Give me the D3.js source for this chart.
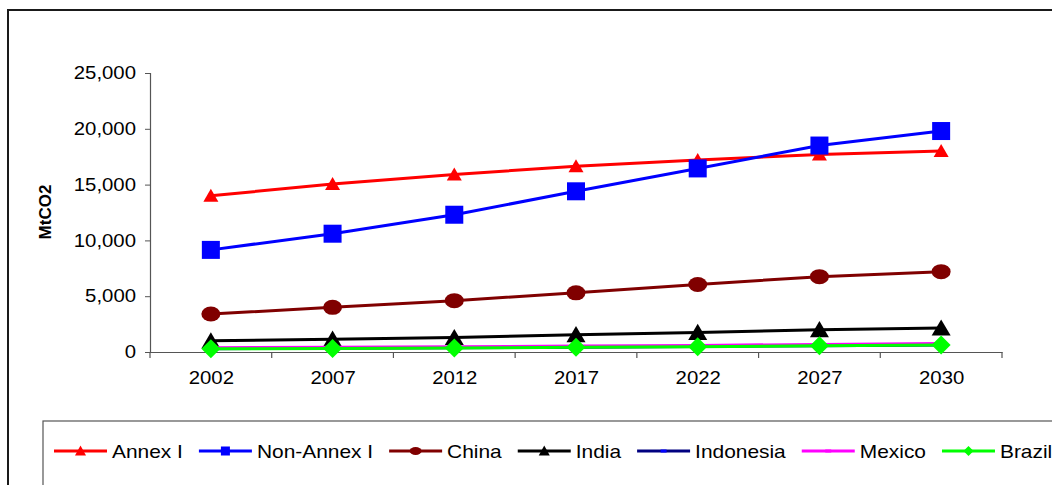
<!DOCTYPE html>
<html><head><meta charset="utf-8">
<script src="https://cdn.jsdelivr.net/npm/d3@7"></script>
<style>
body{margin:0;background:#fff;}
svg{display:block;}
</style></head>
<body>
<svg id="chart" width="1052" height="485"></svg>
<script>
const years = ["2002","2007","2012","2017","2022","2027","2030"];
const yTicks = [0, 5000, 10000, 15000, 20000, 25000];
const seriesNames = ["Annex I","Non-Annex I","China","India","Indonesia","Mexico","Brazil"];
const annexI    = [14000, 15050, 15900, 16650, 17200, 17700, 18000];
const nonAnnexI = [9150, 10600, 12300, 14400, 16450, 18500, 19800];
const china     = [3400, 4000, 4600, 5300, 6050, 6750, 7200];
const india     = [1000, 1150, 1300, 1550, 1750, 2000, 2150];
const indonesia = [300, 340, 380, 430, 490, 560, 620];
const mexico    = [380, 430, 470, 530, 590, 680, 760];
const brazil    = [290, 320, 360, 420, 480, 560, 630];

(function(){
const seriesValues = [annexI, nonAnnexI, china, india, indonesia, mexico, brazil];
const colors = ["#ff0000","#0000ff","#800000","#000000","#000080","#ff00ff","#00ff00"];
const markers = ["tri","square","circle","tri","dash","dash","diamond"];
const plotSize = [15, 18, 17, 19, 0, 0, 19];
const legSize  = [11, 9, 10, 11, 6, 6, 10];

const svg = d3.select("#chart");
const mLeft = 150, mRight = 1002, mTop = 73, mBottom = 352;
const font = "'Liberation Sans', Arial, sans-serif";
const STRETCH = 1.13;
function stretch(sel){
  sel.each(function(){
    const L = this.getComputedTextLength();
    this.setAttribute("textLength", (L*STRETCH).toFixed(2));
    this.setAttribute("lengthAdjust","spacingAndGlyphs");
  });
}

// outer frame
svg.append("rect").attr("x",8).attr("y",10).attr("width",1100).attr("height",520)
  .attr("fill","none").attr("stroke","#1a1a1a").attr("stroke-width",2);

const x = d3.scalePoint().domain(years).range([mLeft,mRight]).padding(0.5);
const xBand = d3.scaleBand().domain(years).range([mLeft,mRight]).padding(0);
const y = d3.scaleLinear().domain([0,25000]).range([mBottom,mTop]);

// y axis
const yAx = svg.append("g").attr("transform",`translate(${mLeft},0)`)
  .call(d3.axisLeft(y).tickValues(yTicks).tickFormat(d3.format(",")).tickSize(5).tickPadding(9));
yAx.select(".domain").attr("stroke","#555").attr("stroke-width",1.2);
yAx.selectAll(".tick line").attr("stroke","#555");
yAx.selectAll("text").attr("font-family",font).attr("font-size",18).attr("fill","#000").call(stretch);

// x axis
const xAx = svg.append("g").attr("transform",`translate(0,${mBottom})`)
  .call(d3.axisBottom(x).tickSizeInner(0).tickSizeOuter(0).tickPadding(19));
xAx.select(".domain").attr("stroke","#555").attr("stroke-width",1.2);
xAx.selectAll("text").attr("font-family",font).attr("font-size",18).attr("fill","#000").call(stretch);
const bounds = years.map(d=>xBand(d)).concat([xBand.range()[1]]);
xAx.selectAll(".btick").data(bounds).enter().append("line")
  .attr("x1",d=>d).attr("x2",d=>d).attr("y1",0).attr("y2",6)
  .attr("stroke","#555").attr("stroke-width",1.2);

// y title
svg.append("text").attr("transform","translate(51,212) rotate(-90)")
  .attr("text-anchor","middle").attr("font-family",font)
  .attr("font-weight","bold").attr("font-size",17).text("MtCO2");

function drawMarker(g, type, cx, cy, s, color){
  if(type==="tri"){
    const h = s*0.8;
    g.append("path").attr("d",`M${cx},${cy-h/2-1}L${cx+s/2},${cy+h/2}L${cx-s/2},${cy+h/2}Z`).attr("fill",color);
  } else if(type==="square"){
    g.append("rect").attr("x",cx-s/2).attr("y",cy-s/2).attr("width",s).attr("height",s).attr("fill",color);
  } else if(type==="circle"){
    g.append("ellipse").attr("cx",cx).attr("cy",cy).attr("rx",s/2+1).attr("ry",s/2-1).attr("fill",color);
  } else if(type==="diamond"){
    g.append("path").attr("d",`M${cx},${cy-s/2}L${cx+s/2},${cy}L${cx},${cy+s/2}L${cx-s/2},${cy}Z`).attr("fill",color);
  } else if(type==="dash" && s>0){
    g.append("rect").attr("x",cx-s/2).attr("y",cy-1.5).attr("width",s).attr("height",3).attr("fill",color==="#000080"?"#0000ff":color);
  }
}

const line = d3.line().x((d,i)=>x(years[i])).y(d=>y(d));
const plot = svg.append("g");
seriesValues.forEach((vals,k)=>{
  const g = plot.append("g");
  g.append("path").attr("d",line(vals)).attr("fill","none").attr("stroke",colors[k]).attr("stroke-width",3);
  vals.forEach((v,i)=>drawMarker(g, markers[k], x(years[i]), y(v), plotSize[k], colors[k]));
});

// legend
svg.append("rect").attr("x",43).attr("y",421).attr("width",1100).attr("height",100)
  .attr("fill","none").attr("stroke","#555").attr("stroke-width",1.2);
const leg = svg.append("g");
let lx = 54; const ly = 451;
seriesNames.forEach((name,k)=>{
  const g = leg.append("g");
  g.append("line").attr("x1",lx).attr("x2",lx+53).attr("y1",ly).attr("y2",ly)
    .attr("stroke",colors[k]).attr("stroke-width",3);
  drawMarker(g, markers[k], lx+26.5, ly, legSize[k], colors[k]);
  const t = g.append("text").attr("x",lx+58).attr("y",ly).attr("dy","0.36em")
    .attr("font-family",font).attr("font-size",18.5).attr("fill","#000").text(name);
  const L = t.node().getComputedTextLength()*STRETCH;
  t.attr("textLength",L.toFixed(2)).attr("lengthAdjust","spacingAndGlyphs");
  lx = lx + 58 + L + 16;
});
})();
</script>
</body></html>
